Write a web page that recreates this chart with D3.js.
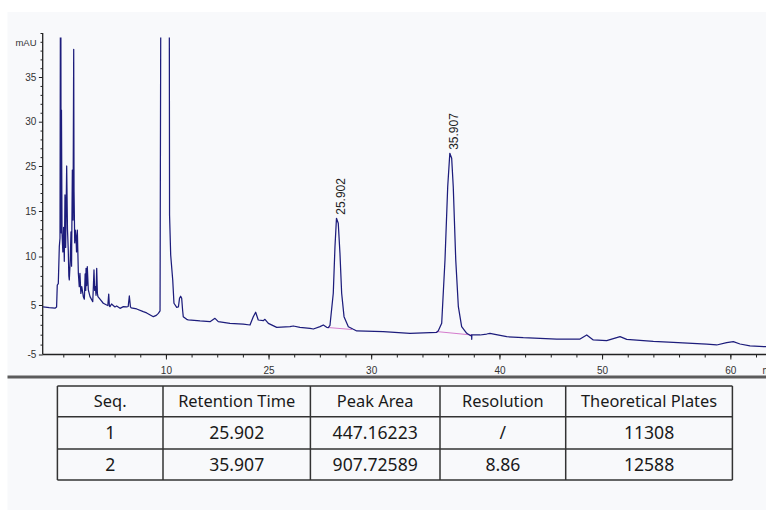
<!DOCTYPE html>
<html>
<head>
<meta charset="utf-8">
<script src="https://cdn.jsdelivr.net/npm/d3@7"></script>
<style>
  html, body { margin: 0; padding: 0; background: #ffffff; }
  svg { display: block; font-family: "Liberation Sans", Arial, sans-serif; }
</style>
</head>
<body>
<svg id="chart" width="766" height="510"></svg>
<script>
// Chromatogram trace: retention time (min) and absorbance (mAU)
const traceTime = [0, 0.55, 1.06, 1.2, 1.26, 1.35, 1.44, 1.5, 1.56, 1.6, 1.63, 1.68, 1.75, 1.82, 1.88, 1.94, 2.0, 2.09, 2.16, 2.23, 2.28, 2.32, 2.4, 2.47, 2.52, 2.59, 2.65, 2.71, 2.74, 2.8, 2.85, 2.91, 2.96, 3.03, 3.12, 3.2, 3.26, 3.34, 3.42, 3.56, 3.65, 3.72, 3.77, 3.8, 3.86, 3.91, 4.0, 4.15, 4.39, 4.45, 4.5, 4.56, 4.62, 4.68, 4.74, 4.8, 4.85, 5.03, 5.32, 5.62, 5.72, 5.8, 5.86, 5.91, 6.05, 6.2, 6.35, 6.5, 6.8, 7.09, 7.39, 7.52, 7.62, 7.72, 7.79, 8.27, 8.85, 9.15, 9.74, 10.0, 10.18, 10.33, 10.39, 10.45, 10.8, 11.1, 11.15, 11.17, 11.27, 11.45, 11.56, 11.8, 11.95, 12.05, 12.15, 12.24, 12.32, 12.38, 12.68, 12.82, 13.86, 14.74, 15.18, 15.47, 16.5, 17.68, 18.27, 18.56, 18.77, 19.0, 19.44, 19.59, 19.89, 20.63, 21.8, 22.09, 22.68, 23.57, 23.86, 24.45, 24.74, 25.04, 25.18, 25.33, 25.62, 25.77, 25.902, 26.06, 26.21, 26.36, 26.57, 26.95, 27.39, 27.69, 30.04, 32.39, 34.75, 34.89, 35.19, 35.48, 35.72, 35.907, 36.07, 36.21, 36.43, 36.66, 36.95, 37.4, 37.75, 37.83, 37.84, 37.85, 38.57, 39.16, 39.45, 39.89, 40.93, 42.39, 43.87, 45.34, 47.4, 47.99, 48.57, 49.75, 50.93, 51.52, 53.87, 55.63, 58.58, 59.46, 60.34, 60.93, 61.52, 62.4, 63.72, 64.2];
const traceMAU = [4.6, 4.45, 4.35, 4.6, 7.06, 7.2, 11.08, 12, 60, 12.6, 31.3, 12.58, 10.5, 13.2, 9.5, 18.56, 11, 25.0, 13, 10.7, 8, 7.58, 9.5, 12.7, 9.0, 24.1, 14, 38.15, 19.3, 11.5, 12.9, 12.2, 10.5, 12.9, 8.27, 6.89, 8.27, 6.2, 6.89, 5.86, 5.6, 8.2, 6.5, 8.78, 7.0, 8.95, 6.55, 5.86, 5.34, 7.0, 8.61, 6.5, 6.89, 6.0, 8.78, 6.2, 5.86, 5.6, 5.18, 5.0, 4.9, 6.13, 4.8, 4.66, 5.1, 4.9, 4.6, 4.8, 4.33, 4.66, 4.6, 4.7, 5.93, 4.6, 4.4, 4.2, 3.65, 3.4, 2.64, 2.9, 3.32, 3.8, 40, 120, 200, 120, 40, 14.56, 10.16, 7.58, 5.18, 4.54, 4.6, 5.69, 5.9, 5.7, 4.0, 2.64, 2.11, 2.0, 1.77, 1.63, 2.31, 1.63, 1.30, 1.16, 0.96, 2.64, 3.53, 1.97, 1.83, 2.11, 1.30, 0.49, 0.62, 0.76, 0.49, 0.29, 0.15, 0.62, 0.96, 0.49, 0.45, 0.9, 6.21, 11.08, 14.2, 13.65, 10.35, 6.21, 2.64, 0.62, 0.09, -0.25, -0.39, -0.72, -0.52, -0.19, 1.30, 9.64, 20.4, 26.43, 25.87, 20.4, 9.64, 4.66, 0.62, -0.72, -1.2, -1.06, -1.93, -1.06, -1.06, -0.86, -0.72, -0.92, -1.40, -1.61, -1.73, -1.87, -1.87, -1.06, -2.07, -2.21, -1.40, -1.93, -2.33, -2.54, -2.88, -3.08, -2.62, -2.41, -2.88, -3.28, -3.42, -3.45];

// Integrated peaks: apex and integration baseline
const peakTimes = [25.902, 35.907];
const peakHeights = [14.2, 26.43];
const baseStartTime = [25.15, 34.69];
const baseStartMAU = [0.45, -0.35];
const baseEndTime = [27.27, 37.84];
const baseEndMAU = [0.05, -1.06];

// Axis labels
const yTickValues = [35, 30, 25, 15, 10, 5, -5];
const xTickLabels = ["10", "25", "30", "40", "50", "60"];
const xTickSlots = [0, 4, 8, 13, 17, 22];

// Results table
const tableHeader = ["Seq.", "Retention Time", "Peak Area", "Resolution", "Theoretical Plates"];
const seqNumbers = ["1", "2"];
const retentionTimes = ["25.902", "35.907"];
const peakAreas = ["447.16223", "907.72589"];
const resolutions = ["/", "8.86"];
const theoreticalPlates = ["11308", "12588"];

const W = 766, H = 510;
const svg = d3.select("#chart");

// page and panel backgrounds
svg.append("rect").attr("width", W).attr("height", H).attr("fill", "#ffffff");
svg.append("rect").attr("x", 7.5).attr("y", 12).attr("width", W - 7.5).attr("height", H - 12).attr("fill", "#f8f9fb");

// scales
const x = d3.scaleLinear().domain([0, 64]).range([43, 43 + 64 * 11.33]);
const y = d3.scaleLinear()
  .domain([-5, 5, 10, 15, 25, 30, 35, 40])
  .range([354.5, 305, 256.5, 211, 166, 121.7, 77, 33]);
const xSlot = d3.scaleLinear().domain([-4, 23]).range([63.3, 756]);

const axisColor = "#222";
const labelColor = "#333";
const axisFont = "'Liberation Sans', Arial, sans-serif";

// y axis: minor ticks between labelled values
const ySorted = [-5, 5, 10, 15, 25, 30, 35, 40];
const yMinor = [];
for (let i = 0; i < ySorted.length - 1; i++) {
  for (let k = 1; k < 5; k++) yMinor.push(ySorted[i] + (ySorted[i + 1] - ySorted[i]) * k / 5);
}
yMinor.push(40);

const gyMinor = svg.append("g").attr("transform", "translate(42.7,0)")
  .call(d3.axisLeft(y).tickValues(yMinor).tickSize(2.2).tickFormat(""));
const gy = svg.append("g").attr("transform", "translate(42.7,0)")
  .call(d3.axisLeft(y).tickValues(yTickValues).tickSize(3.8).tickPadding(2.5)
    .tickFormat(d => String(d)));
[gyMinor, gy].forEach(g => {
  g.select(".domain").remove();
  g.selectAll("line").attr("stroke", axisColor).attr("stroke-width", 1);
});
gy.selectAll("text").attr("fill", labelColor).style("font-size", "10px").style("font-family", axisFont);
svg.append("line").attr("x1", 42.7).attr("x2", 42.7).attr("y1", y(40)).attr("y2", y(-5))
  .attr("stroke", axisColor).attr("stroke-width", 1.3);
svg.append("text").attr("x", 36.5).attr("y", y(40) + 10).attr("dy", "0.35em")
  .attr("text-anchor", "end").attr("fill", labelColor).style("font-size", "9.5px").text("mAU");

// x axis
const gxMinor = svg.append("g").attr("transform", `translate(0,${y(-5)})`)
  .call(d3.axisBottom(xSlot).tickValues(d3.range(-4, 24)).tickSize(3).tickFormat(""));
const gx = svg.append("g").attr("transform", `translate(0,${y(-5)})`)
  .call(d3.axisBottom(xSlot).tickValues(xTickSlots).tickSize(5).tickPadding(7)
    .tickFormat((d, i) => xTickLabels[i]));
[gxMinor, gx].forEach(g => {
  g.select(".domain").remove();
  g.selectAll("line").attr("stroke", axisColor).attr("stroke-width", 1);
});
gx.selectAll("text").attr("fill", labelColor).style("font-size", "10px").style("font-family", axisFont);
svg.append("line").attr("x1", 42.7).attr("x2", W).attr("y1", y(-5)).attr("y2", y(-5))
  .attr("stroke", axisColor).attr("stroke-width", 1.3);
// time unit, running off the right edge
svg.append("text").attr("x", 762.5).attr("y", y(-5) + 19).attr("fill", labelColor)
  .style("font-size", "10px").text("min");

// plot clip
svg.append("clipPath").attr("id", "plotClip").append("rect")
  .attr("x", x(0)).attr("y", y(39.5)).attr("width", W - x(0)).attr("height", y(-5) - y(39.5));
const plot = svg.append("g").attr("clip-path", "url(#plotClip)");

// integration baselines
plot.selectAll("line.base").data(peakTimes).join("line").attr("class", "base")
  .attr("x1", (d, i) => x(baseStartTime[i])).attr("y1", (d, i) => y(baseStartMAU[i]))
  .attr("x2", (d, i) => x(baseEndTime[i])).attr("y2", (d, i) => y(baseEndMAU[i]))
  .attr("stroke", "#d47ccd").attr("stroke-width", 1.2);

// chromatogram trace
const points = d3.zip(traceTime, traceMAU);
plot.append("path").datum(points)
  .attr("d", d3.line().x(d => x(d[0])).y(d => y(d[1])))
  .attr("fill", "none").attr("stroke", "#1d1d7c").attr("stroke-width", 1.25)
  .attr("stroke-linejoin", "round");

// peak retention-time labels
svg.selectAll("text.peak").data(peakTimes).join("text").attr("class", "peak")
  .attr("transform", (d, i) => `translate(${x(d) + 4},${y(peakHeights[i]) - 3.5}) rotate(-90)`)
  .attr("dy", "0.35em").attr("fill", "#222").style("font-size", "12px")
  .text(d => d.toFixed(3));

// separator under the chart
svg.append("line").attr("x1", 7.5).attr("x2", W).attr("y1", 377).attr("y2", 377)
  .attr("stroke", "#5c5c5c").attr("stroke-width", 3);

// results table
const colEdges = [57.4, 163, 310.4, 440, 565.7, 732.4];
const rowEdges = [386, 416.7, 449, 480];
const rows = [tableHeader].concat(d3.zip(seqNumbers, retentionTimes, peakAreas, resolutions, theoreticalPlates));
const table = svg.append("g").style("font-family", "'Noto Sans', 'Liberation Sans', sans-serif");
rowEdges.forEach(ry => table.append("line").attr("x1", colEdges[0]).attr("x2", colEdges[colEdges.length - 1])
  .attr("y1", ry).attr("y2", ry).attr("stroke", "#333").attr("stroke-width", 1.5));
colEdges.forEach(cx => table.append("line").attr("x1", cx).attr("x2", cx)
  .attr("y1", rowEdges[0]).attr("y2", rowEdges[rowEdges.length - 1]).attr("stroke", "#333").attr("stroke-width", 1.5));
rows.forEach((row, r) => {
  row.forEach((cell, c) => {
    table.append("text")
      .attr("x", (colEdges[c] + colEdges[c + 1]) / 2)
      .attr("y", (rowEdges[r] + rowEdges[r + 1]) / 2)
      .attr("dy", "0.36em").attr("text-anchor", "middle")
      .attr("fill", "#1a1a1a").style("font-size", r === 0 ? "16.4px" : "17.6px")
      .text(cell);
  });
});
</script>
</body>
</html>
